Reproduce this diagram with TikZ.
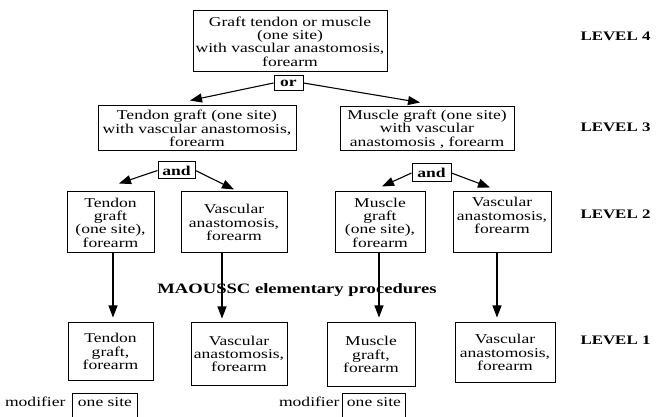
\documentclass[tikz,border=0pt]{standalone}
\usepackage{fontspec}
\setmainfont{Liberation Serif}[FakeStretch=1.3]
\usetikzlibrary{arrows.meta}
\newcommand\boxfont{\fontsize{13.5}{13.3}\selectfont}
\newcommand\levelfont{\fontsize{13}{14}\selectfont\bfseries}

\begin{document}
\begin{tikzpicture}[x=1pt,y=-1pt,line width=1pt,
  box/.style={draw,inner sep=0pt,align=center,font=\boxfont},
  joint/.style={draw,inner sep=0pt,font=\boxfont\bfseries},
  link/.style={line width=1.1pt,-{Triangle[length=12pt,width=9pt]}},
  level/.style={anchor=west,inner sep=0pt,font=\levelfont}]
\useasboundingbox (0,0) rectangle (657,417);
% level 4
\node [box,minimum width=194,minimum height=61] (graft4) at (290,41.5) {Graft tendon or muscle\\(one site)\\with vascular anastomosis,\\forearm};
\node [joint,minimum width=29,minimum height=15] (or4) at (288.5,83) {or};
% level 3
\node [box,minimum width=198,minimum height=45] (tendon3) at (197,128.5) {Tendon graft (one site)\\with vascular anastomosis,\\forearm};
\node [box,minimum width=174,minimum height=44] (muscle3) at (427,129) {Muscle graft (one site)\\with vascular\\anastomosis , forearm};
\node [joint,minimum width=37,minimum height=17] (and3a) at (176.5,170.5) {and};
\node [joint,minimum width=39,minimum height=18] (and3b) at (431.5,173) {and};
% level 2
\node [box,minimum width=87,minimum height=61] (tendon2) at (110.5,222.5) {Tendon\\graft\\(one site),\\forearm};
\node [box,minimum width=106,minimum height=61] (vasc2a) at (234,222.5) {Vascular\\anastomosis,\\forearm};
\node [box,minimum width=90,minimum height=61] (muscle2) at (380,222.5) {Muscle\\graft\\(one site),\\forearm};
\node [box,minimum width=98,minimum height=61,text depth=14pt] (vasc2b) at (502,222.5) {Vascular\\anastomosis,\\forearm};
% level 1
\node [font=\fontsize{14.3}{15}\selectfont\bfseries,inner sep=0pt] (maoussc) at (297,290) {MAOUSSC elementary procedures};
\node [box,minimum width=85,minimum height=57] (tendon1) at (110.5,351.5) {Tendon\\graft,\\forearm};
\node [box,minimum width=96,minimum height=62] (vasc1a) at (239,354) {Vascular\\anastomosis,\\forearm};
\node [box,minimum width=88,minimum height=63] (muscle1) at (371,354.5) {Muscle\\graft,\\forearm};
\node [box,minimum width=100,minimum height=59] (vasc1b) at (505,352.5) {Vascular\\anastomosis,\\forearm};
% modifiers
\node [draw,anchor=north west,inner xsep=0pt,inner ysep=2pt,minimum width=65,text height=11pt,text depth=16pt,font=\boxfont] (site1) at (72,393) {one site};
\node [anchor=base east,inner sep=0pt,font=\boxfont] (mod1) at ([xshift=-6pt]site1.base west) {modifier};
\node [draw,anchor=north west,inner xsep=0pt,inner ysep=2pt,minimum width=63,text height=11pt,text depth=16pt,font=\boxfont] (site2) at (342,393) {one site};
\node [anchor=base east,inner sep=0pt,font=\boxfont] (mod2) at ([xshift=-2pt]site2.base west) {modifier};
% levels
\node [level] (lev4) at (580,36) {LEVEL 4};
\node [level] (lev3) at (580,127) {LEVEL 3};
\node [level] (lev2) at (580,214) {LEVEL 2};
\node [level] (lev1) at (580,340) {LEVEL 1};
% arrows
\draw [link] (or4.west) -- ([shift={(-7,-5)}]tendon3.north);
\draw [link] (or4.east) -- ([shift={(-7,-4)}]muscle3.north);
\draw [link] (and3a.west) -- ([shift={(8.5,-8)}]tendon2.north);
\draw [link] (and3a.east) -- ([shift={(0,-2)}]vasc2a.north);
\draw [link] (and3b.west) -- ([shift={(2,-5)}]muscle2.north);
\draw [link] (and3b.east) -- ([shift={(-12,-4)}]vasc2b.north);
\draw [link] ([xshift=2.5pt]tendon2.south) -- ([shift={(2.5,-5)}]tendon1.north);
\draw [link] ([xshift=-12pt]vasc2a.south) -- ([shift={(-17,-4)}]vasc1a.north);
\draw [link] ([xshift=-1pt]muscle2.south) -- ([shift={(8,-5)}]muscle1.north);
\draw [link] ([xshift=-5pt]vasc2b.south) -- ([shift={(-8,-5)}]vasc1b.north);
\end{tikzpicture}
\end{document}
